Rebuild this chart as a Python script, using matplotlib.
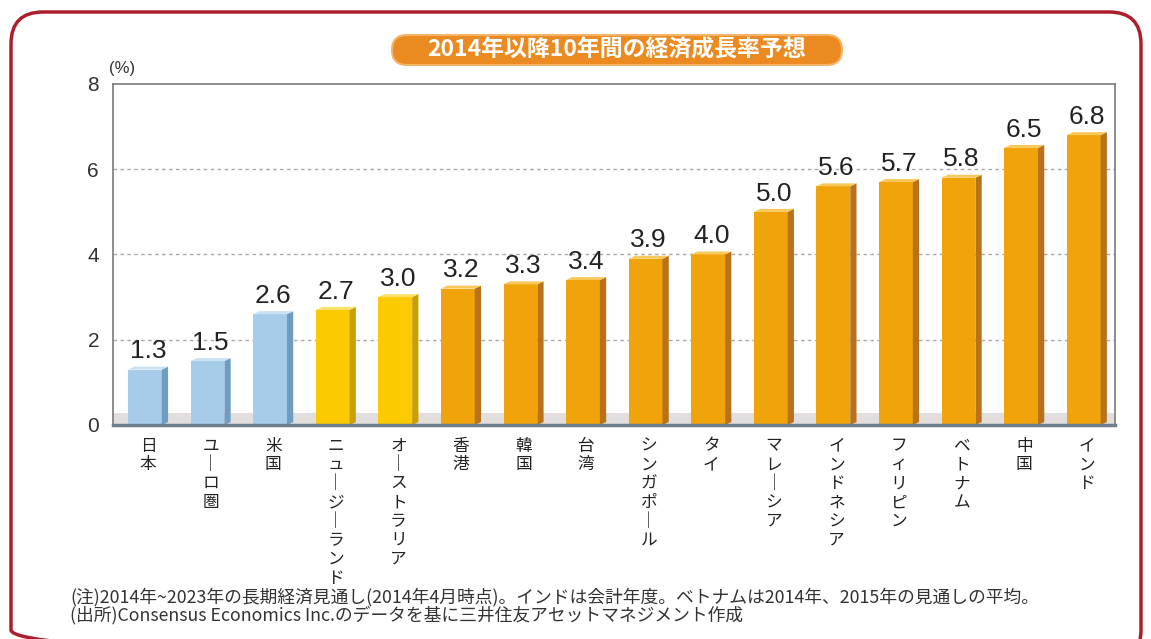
# 2014年以降10年間の経済成長率予想: 疑似3Dの棒グラフ
import matplotlib.pyplot as plt
from matplotlib.patches import Polygon, FancyBboxPatch
from matplotlib.ticker import FixedLocator

plt.rcParams['font.family'] = ['Noto Sans CJK JP', 'DejaVu Sans']

# データ
countries = ['日本', 'ユーロ圏', '米国', 'ニュージーランド', 'オーストラリア', '香港', '韓国', '台湾',
             'シンガポール', 'タイ', 'マレーシア', 'インドネシア', 'フィリピン', 'ベトナム', '中国', 'インド']
growth = [1.3, 1.5, 2.6, 2.7, 3.0, 3.2, 3.3, 3.4, 3.9, 4.0, 5.0, 5.6, 5.7, 5.8, 6.5, 6.8]
region = ['developed'] * 3 + ['oceania'] * 2 + ['asia'] * 11
y_ticks = [0, 2, 4, 6, 8]
title = '2014年以降10年間の経済成長率予想'
notes = ['(注)2014年~2023年の長期経済見通し(2014年4月時点)。インドは会計年度。ベトナムは2014年、2015年の見通しの平均。',
         '(出所)Consensus Economics Inc.のデータを基に三井住友アセットマネジメント作成']

# 色: 正面, 側面, 上面
colors = {
    'developed': ('#a6cce9', '#6e9cc2', '#c9e1f3'),
    'oceania': ('#fcca00', '#c9a000', '#ffe066'),
    'asia': ('#f0a30a', '#b8721c', '#f9c85a'),
}

W, H = 1151, 639
fig = plt.figure(figsize=(W / 100, H / 100), dpi=100)
fig.patch.set_facecolor('white')

# 背景用の軸 (ピクセル座標)
bg = fig.add_axes([0, 0, 1, 1])
bg.set_xlim(0, W)
bg.set_ylim(H, 0)
bg.axis('off')
bg.add_patch(FancyBboxPatch((11, 12), 1130, 650, boxstyle='round,pad=0,rounding_size=32',
                            facecolor='none', edgecolor='#ad1e2c', linewidth=2.5))
bg.add_patch(FancyBboxPatch((392, 35), 450, 30, boxstyle='round,pad=0,rounding_size=15',
                            facecolor='#ea8a20', edgecolor='#f4b468', linewidth=1.5))
bg.text(617, 50, title, fontsize=16.5, fontweight='bold', color='white', ha='center', va='center')
bg.text(109, 68, '(%)', fontsize=12, color='#333333', family=['Liberation Sans'], ha='left', va='center')
bg.text(70, 597, notes[0], fontsize=12.8, color='#333333', ha='left', va='center')
bg.text(70, 615, notes[1], fontsize=12.8, color='#333333', ha='left', va='center')

ax = fig.add_axes([113 / W, (H - 425) / H, (1115 - 113) / W, (425 - 84) / H])
ax.set_facecolor('none')
ax.set_xlim(-0.51, 15.5)
ax.set_ylim(0, 8)

bw = 0.54    # 正面の幅
dx = 0.1     # 奥行き (x)
dy = 0.07    # 奥行き (y)

# 床
ax.axhspan(0, 0.28, color='#e2dede', zorder=1, lw=0)

for i, (v, r) in enumerate(zip(growth, region)):
    front, side, top = colors[r]
    x0 = i - bw / 2
    x1 = i + bw / 2
    ax.bar(i, v, width=bw, color=front, zorder=3, linewidth=0)
    ax.add_patch(Polygon([(x1, 0), (x1 + dx, dy), (x1 + dx, v + dy), (x1, v)],
                         closed=True, facecolor=side, edgecolor='none', zorder=3))
    ax.add_patch(Polygon([(x0, v), (x1, v), (x1 + dx, v + dy), (x0 + dx, v + dy)],
                         closed=True, facecolor=top, edgecolor='none', zorder=3))
    ax.annotate(f'{v:.1f}', (i + dx / 2, v + dy), xytext=(0, 6), textcoords='offset points',
                ha='center', va='baseline', fontsize=19, family=['Liberation Sans'],
                color='#222222', zorder=4)
    # 縦書きラベル
    label = countries[i].replace('ー', '｜')
    for k, ch in enumerate(label):
        ax.annotate(ch, (i + dx / 2, 0), xycoords=('data', 'axes fraction'),
                    xytext=(0, -9 - k * 13.6), textcoords='offset points',
                    ha='center', va='top', fontsize=12, color='#222222', annotation_clip=False)

# 目盛り, グリッド
ax.yaxis.set_major_locator(FixedLocator(y_ticks))
ax.set_xticks([])
ax.tick_params(axis='y', length=0, pad=10, labelsize=15, labelcolor='#333333')
for lab in ax.get_yticklabels():
    lab.set_family(['Liberation Sans'])
for t in y_ticks[1:-1]:
    ax.axhline(t, color='#a8a8a8', linestyle=(0, (2.5, 2.5)), linewidth=1, zorder=2)

for s in ['top', 'right', 'left']:
    ax.spines[s].set_color('#7a7a7a')
    ax.spines[s].set_linewidth(1.2)
ax.spines['bottom'].set_color('#6f7f90')
ax.spines['bottom'].set_linewidth(2.5)
ax.spines['bottom'].set_zorder(5)

fig.savefig('out.png', dpi=100)
